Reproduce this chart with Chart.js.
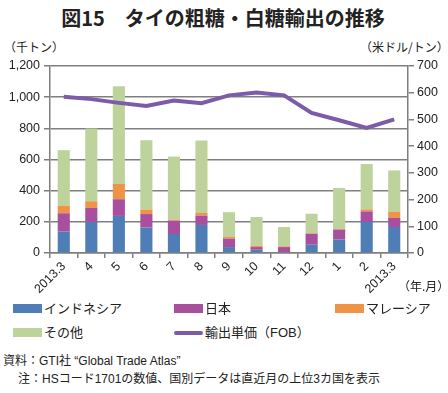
<!DOCTYPE html>
<html>
<head>
<meta charset="utf-8">
<script src="https://cdn.jsdelivr.net/npm/chart.js@4"></script>
<style>
    body { margin: 0; background: #fff; font-family: 'Liberation Sans', 'Noto Sans CJK JP', sans-serif; color: #222; }
    #wrap { position: relative; width: 448px; height: 393px; overflow: hidden; }
    #chart-box { position: absolute; left: 0; top: 0; width: 448px; height: 300px; }
    .txt { position: absolute; white-space: nowrap; line-height: 1; }
    .title { left: 0; width: 446px; top: 8px; text-align: center; font-size: 20px; font-weight: bold; font-family: 'Noto Sans CJK JP', sans-serif; }
    .unit { font-size: 12px; top: 41px; font-family: 'Noto Sans CJK JP', sans-serif; }
    .legend-item { position: absolute; font-size: 13px; line-height: 1; display: flex; align-items: center; }
    .swatch { width: 29px; height: 9px; margin-right: 2px; }
    .swatch-line { width: 29px; height: 4px; border-radius: 2px; margin-right: 2px; }
    .note { font-size: 12px; }
</style>
</head>
<body>
<div id="wrap">
    <div class="txt title">図15　タイの粗糖・白糖輸出の推移</div>
    <div class="txt unit" style="left:4px">（千トン）</div>
    <div class="txt unit" style="left:360px">（米ドル/トン）</div>
    <div id="chart-box"><canvas id="sugar-chart"></canvas></div>
    <div class="txt" style="left:398px; top:280px; font-size:12px; font-family:'Noto Sans CJK JP', sans-serif">（年.月）</div>
    <div id="legend"></div>
    <div class="txt note" style="left:3px; top:355px">資料：GTI社 “Global Trade Atlas”</div>
    <div class="txt note" style="left:18px; top:373px">注：HSコード1701の数値、国別データは直近月の上位3カ国を表示</div>
</div>
<script>
const months = ['2013.3', '4', '5', '6', '7', '8', '9', '10', '11', '12', '1', '2', '2013.3'];

// 千トン
const indonesia = [139, 199, 238, 163, 122, 180, 38, 21, 6, 53, 86, 199, 167];
const japan = [116, 90, 107, 87, 86, 60, 54, 17, 32, 71, 64, 68, 58];
const malaysia = [47, 43, 98, 29, 6, 17, 11, 9, 5, 2, 4, 13, 38];
const others = [358, 467, 627, 444, 405, 465, 159, 184, 124, 126, 263, 291, 267];

// 米ドル/トン
const unitPrice = [585, 576, 562, 550, 571, 561, 590, 601, 590, 524, 497, 468, 500];

const leftTicks = [0, 200, 400, 600, 800, 1000, 1200];
const rightTicks = [0, 100, 200, 300, 400, 500, 600, 700];

const GRID = '#7f7f7f';
const tickFont = { family: "'Liberation Sans', Arial, sans-serif", size: 12.5 };

function barSet(label, data, color) {
    return {
        type: 'bar',
        label: label,
        data: data,
        backgroundColor: color,
        borderWidth: 0,
        barPercentage: 0.44,
        categoryPercentage: 1,
        yAxisID: 'y',
        order: 2,
    };
}

const datasets = [
    barSet('インドネシア', indonesia, '#4f7db6'),
    barSet('日本', japan, '#a84f9e'),
    barSet('マレーシア', malaysia, '#ef9447'),
    barSet('その他', others, '#bed39c'),
    {
        type: 'line',
        label: '輸出単価（FOB）',
        data: unitPrice,
        borderColor: '#7c5ba9',
        borderWidth: 4,
        pointRadius: 0,
        tension: 0,
        fill: false,
        yAxisID: 'y1',
        order: 1,
    },
];

new Chart(document.getElementById('sugar-chart'), {
    data: { labels: months, datasets: datasets },
    options: {
        responsive: true,
        maintainAspectRatio: false,
        animation: false,
        layout: { padding: { top: 66, left: 0, right: 0, bottom: 0 } },
        plugins: { legend: { display: false }, tooltip: { enabled: false } },
        scales: {
            x: {
                stacked: true,
                offset: true,
                afterFit: (scale) => { scale.height = 47; },
                grid: { offset: true, drawOnChartArea: false, color: GRID, lineWidth: 1.5, tickLength: 5 },
                border: { color: GRID, width: 1.5 },
                ticks: { color: '#222', font: tickFont, minRotation: 45, maxRotation: 45, padding: 1 },
            },
            y: {
                stacked: true,
                position: 'left',
                min: 0,
                max: 1200,
                afterFit: (scale) => { scale.width = 50; },
                afterBuildTicks: (scale) => { scale.ticks = leftTicks.map((v) => ({ value: v })); },
                grid: { color: GRID, lineWidth: 1.5, tickLength: 6 },
                border: { color: GRID, width: 1.5 },
                ticks: {
                    color: '#222',
                    font: tickFont,
                    padding: 4,
                    callback: (v) => v.toLocaleString('en-US'),
                },
            },
            y1: {
                position: 'right',
                min: 0,
                max: 700,
                afterFit: (scale) => { scale.width = 40; },
                afterBuildTicks: (scale) => { scale.ticks = rightTicks.map((v) => ({ value: v })); },
                grid: { drawOnChartArea: false, color: GRID, lineWidth: 1.5, tickLength: 6 },
                border: { color: GRID, width: 1.5 },
                ticks: { color: '#222', font: tickFont, padding: 3 },
            },
        },
    },
});

// legend in three columns, like the original
const legendPos = [
    [13, 302], [174, 302], [335, 302],
    [13, 326], [174, 326],
];
const legendBox = document.getElementById('legend');
datasets.forEach((ds, i) => {
    const item = document.createElement('div');
    item.className = 'legend-item';
    item.style.left = legendPos[i][0] + 'px';
    item.style.top = legendPos[i][1] + 'px';
    const sw = document.createElement('span');
    sw.className = ds.type === 'line' ? 'swatch-line' : 'swatch';
    sw.style.background = ds.type === 'line' ? ds.borderColor : ds.backgroundColor;
    item.appendChild(sw);
    item.appendChild(document.createTextNode(ds.label));
    legendBox.appendChild(item);
});
</script>
</body>
</html>
